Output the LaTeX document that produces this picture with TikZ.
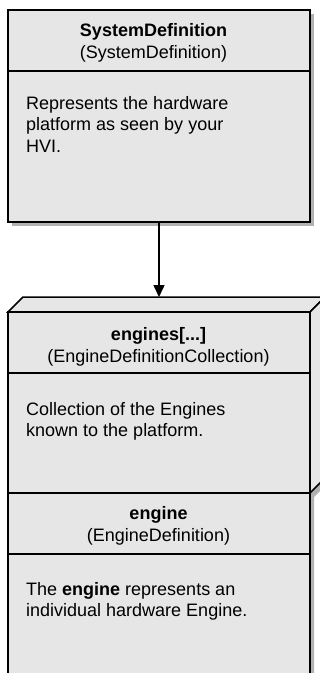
\documentclass[tikz,border=0pt]{standalone}
\usepackage{fontspec}
\setmainfont{Liberation Sans}
\usetikzlibrary{arrows.meta}
\definecolor{boxfill}{HTML}{E6E6E6}
\definecolor{shadowc}{HTML}{B2B2B2}
\begin{document}
\begin{tikzpicture}[x=1pt,y=-1pt,
  edge/.style={line width=1.5pt, draw=black},
  boxnode/.style={edge, fill=boxfill, rectangle, inner sep=0pt, outer sep=0pt, anchor=north west},
  face/.style={edge, fill=boxfill, line join=miter},
  shade/.style={fill=shadowc},
  txt/.style={inner sep=0pt, font=\fontsize{18}{21.5}\selectfont, text=black},
  ttl/.style={txt, anchor=base},
  bodyline/.style={txt, anchor=base west},
  link/.style={line width=1.5pt, -{Triangle[width=11pt,length=12pt]}}]
\useasboundingbox (0,0) rectangle (320,673);
\clip (0,0) rectangle (320,673);
% --- top box
\fill[shade] (12,14) rectangle (314,226);
\node[boxnode, minimum width=302pt, minimum height=212pt] (sys) at (8,10) {};
\draw[edge] (8,71) -- (310,71);
\node[ttl] (sysname) at (153.5,36) {\bfseries SystemDefinition};
\node[ttl] (systype) at (153.5,58) {(SystemDefinition)};
\node[bodyline] (sysb1) at (26,109) {Represents the hardware};
\node[bodyline] (sysb2) at (26,130.5) {platform as seen by your};
\node[bodyline] (sysb3) at (26,152) {HVI.};
% --- engines collection (3D box) + engine box
\fill[shade] (12,316) -- (27,301) -- (329,301) -- (329,482) -- (314,497) -- (314,690) -- (12,690) -- cycle;
\draw[face] (8,312) -- (23,297) -- (325,297) -- (310,312) -- cycle;
\draw[face] (310,312) -- (325,297) -- (325,478) -- (310,493) -- cycle;
\node[boxnode, minimum width=302pt, minimum height=181pt] (engs) at (8,312) {};
\draw[edge] (8,373) -- (310,373);
\node[ttl] (engsname) at (158.5,340) {\bfseries engines[...]};
\node[ttl] (engstype) at (158.5,362) {(EngineDefinitionCollection)};
\node[bodyline] (engsb1) at (26,415) {Collection of the Engines};
\node[bodyline] (engsb2) at (26,436.5) {known to the platform.};
\node[boxnode, minimum width=302pt, minimum height=200pt] (eng) at (8,493) {};
\draw[edge] (8,554) -- (310,554);
\node[ttl] (engname) at (158.5,519) {\bfseries engine};
\node[ttl] (engtype) at (158.5,541) {(EngineDefinition)};
\node[bodyline] (engb1) at (26,595) {The \textbf{engine} represents an};
\node[bodyline] (engb2) at (26,616.5) {individual hardware Engine.};
% --- connector
\coordinate (engtop) at (159,297);
\draw[link] (sys) -- (engtop);
\end{tikzpicture}
\end{document}
